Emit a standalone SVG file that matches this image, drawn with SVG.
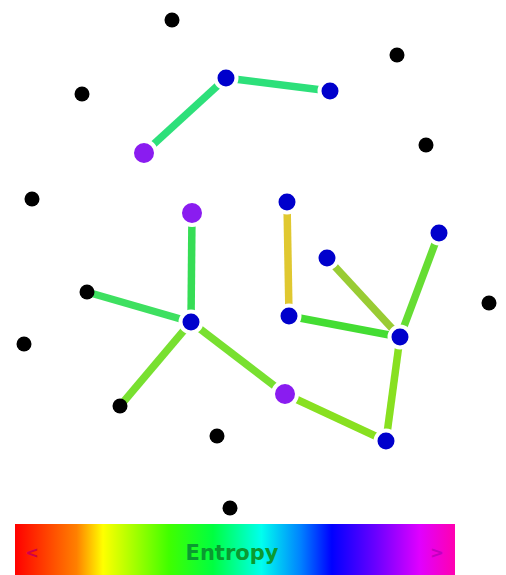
<svg xmlns="http://www.w3.org/2000/svg" width="506" height="575" viewBox="0 0 506 575">
<defs>
<style>
.e{stroke-width:7.5;stroke-linecap:butt;fill:none}
.b{fill:#0000cc;stroke:#fff;stroke-width:4}
.k{fill:#000}
.p{fill:#8a1cf0;stroke:#fff;stroke-width:4}
.t{font-family:"DejaVu Sans",sans-serif;font-weight:bold;fill:#0a9a30}
</style>
<linearGradient id="g" x1="0" x2="1" y1="0" y2="0">
<stop offset="0" stop-color="#ff0000"/>
<stop offset="0.14" stop-color="#ff8000"/>
<stop offset="0.2" stop-color="#ffff00"/>
<stop offset="0.35" stop-color="#40ff00"/>
<stop offset="0.45" stop-color="#00ff40"/>
<stop offset="0.56" stop-color="#00ffee"/>
<stop offset="0.65" stop-color="#0080ff"/>
<stop offset="0.72" stop-color="#0000ff"/>
<stop offset="0.82" stop-color="#6a00ff"/>
<stop offset="0.92" stop-color="#e000ff"/>
<stop offset="1" stop-color="#ff00b0"/>
</linearGradient>
</defs>
<rect width="506" height="575" fill="#fff"/>
<g id="connectors">
<line class="e" x1="144" y1="153" x2="226" y2="78" stroke="#2de07a"/>
<line class="e" x1="226" y1="78" x2="330" y2="91" stroke="#2de07a"/>
<line class="e" x1="192" y1="213" x2="191" y2="322" stroke="#36dd55"/>
<line class="e" x1="87" y1="292" x2="191" y2="322" stroke="#3ee060"/>
<line class="e" x1="191" y1="322" x2="120" y2="406" stroke="#78e030"/>
<line class="e" x1="191" y1="322" x2="285" y2="394" stroke="#78e030"/>
<line class="e" x1="285" y1="394" x2="386" y2="441" stroke="#88e020"/>
<line class="e" x1="386" y1="441" x2="400" y2="337" stroke="#88e020"/>
<line class="e" x1="287" y1="202" x2="289" y2="316" stroke="#e0c830"/>
<line class="e" x1="327" y1="258" x2="400" y2="337" stroke="#99cc33"/>
<line class="e" x1="289" y1="316" x2="400" y2="337" stroke="#44dd33"/>
<line class="e" x1="439" y1="233" x2="400" y2="337" stroke="#66dd33"/>
</g>
<g id="n1"><circle class="k" cx="172" cy="20" r="7.5"/></g>
<g id="n2"><circle class="k" cx="397" cy="55" r="7.5"/></g>
<g id="n3"><circle class="k" cx="82" cy="94" r="7.5"/></g>
<g id="n4"><circle class="k" cx="426" cy="145" r="7.5"/></g>
<g id="n5"><circle class="k" cx="32" cy="199" r="7.5"/></g>
<g id="n6"><circle class="k" cx="87" cy="292" r="7.5"/></g>
<g id="n7"><circle class="k" cx="489" cy="303" r="7.5"/></g>
<g id="n8"><circle class="k" cx="24" cy="344" r="7.5"/></g>
<g id="n9"><circle class="k" cx="120" cy="406" r="7.5"/></g>
<g id="n10"><circle class="k" cx="217" cy="436" r="7.5"/></g>
<g id="n11"><circle class="k" cx="230" cy="508" r="7.5"/></g>
<g id="n12"><circle class="b" cx="226" cy="78" r="10.5"/></g>
<g id="n13"><circle class="b" cx="330" cy="91" r="10.5"/></g>
<g id="n14"><circle class="p" cx="144" cy="153" r="12"/></g>
<g id="n15"><circle class="p" cx="192" cy="213" r="12"/></g>
<g id="n16"><circle class="b" cx="287" cy="202" r="10.5"/></g>
<g id="n17"><circle class="b" cx="439" cy="233" r="10.5"/></g>
<g id="n18"><circle class="b" cx="327" cy="258" r="10.5"/></g>
<g id="n19"><circle class="b" cx="289" cy="316" r="10.5"/></g>
<g id="n20"><circle class="b" cx="400" cy="337" r="10.5"/></g>
<g id="n21"><circle class="b" cx="191" cy="322" r="10.5"/></g>
<g id="n22"><circle class="p" cx="285" cy="394" r="12"/></g>
<g id="n23"><circle class="b" cx="386" cy="441" r="10.5"/></g>
<g id="legend">
<rect x="15" y="524" width="440" height="51" fill="url(#g)"/>
<text class="t" x="32" y="558" font-size="16" text-anchor="middle" style="fill:#d0004a">&lt;</text>
<text class="t" x="232" y="560" font-size="21" text-anchor="middle">Entropy</text>
<text class="t" x="437" y="558" font-size="16" text-anchor="middle" style="fill:#c000c0">&gt;</text>
</g>
</svg>
